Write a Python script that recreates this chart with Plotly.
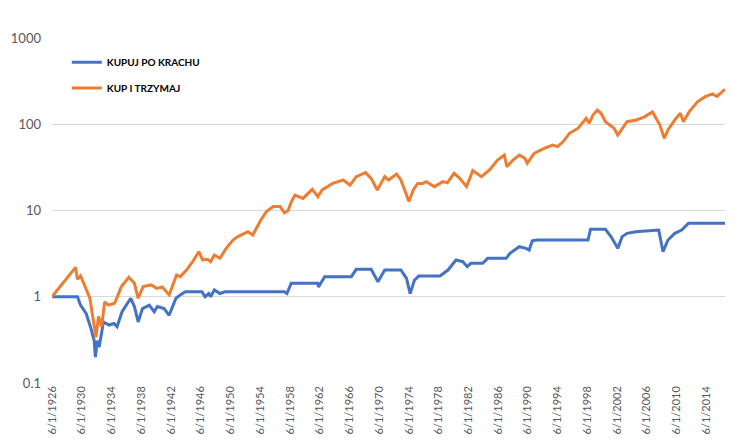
import plotly.graph_objects as go

# KUP I TRZYMAJ (buy & hold)
hold_dates = ["1926-06","1927-07","1928-08","1929-08","1929-11","1930-04","1931-07","1931-12",
    "1932-05","1932-09","1933-02","1933-07","1934-01","1934-11","1935-10","1936-10","1937-07",
    "1938-01","1938-09","1939-10","1940-07","1941-04","1942-03","1943-03","1943-09","1944-07",
    "1945-05","1946-03","1946-09","1947-05","1947-10","1948-04","1949-01","1949-11","1950-10",
    "1951-06","1952-10","1953-06","1954-07","1955-04","1956-03","1957-02","1957-09","1958-03",
    "1958-08","1959-02","1960-03","1961-06","1962-03","1962-10","1964-03","1965-08","1966-07",
    "1967-05","1968-08","1969-05","1970-03","1971-03","1971-09","1972-10","1973-05","1974-06",
    "1975-01","1975-08","1976-04","1976-10","1977-11","1979-01","1979-08","1980-07","1981-04",
    "1982-03","1983-01","1984-03","1985-04","1986-05","1987-04","1987-08","1988-06","1989-04",
    "1990-01","1990-05","1991-04","1992-09","1993-10","1994-06","1995-03","1996-01","1997-03",
    "1998-04","1998-09","1999-03","1999-10","2000-04","2000-11","2001-06","2002-01","2002-07",
    "2003-01","2003-10","2005-01","2006-02","2007-03","2007-08","2008-03","2008-10","2009-04",
    "2010-03","2010-12","2011-05","2012-02","2013-04","2014-05","2015-04","2015-11","2016-12"]
hold_values = [1.0,1.3,1.7,2.19,1.6,1.75,0.97,0.6,
    0.34,0.59,0.45,0.87,0.8,0.84,1.31,1.68,1.43,
    0.96,1.31,1.37,1.25,1.3,1.05,1.79,1.71,2.04,
    2.55,3.33,2.67,2.72,2.55,3.05,2.79,3.64,4.55,
    4.98,5.67,5.2,7.77,9.7,11.1,11.1,9.4,10.0,
    12.5,15.1,13.8,17.6,14.5,17.3,20.6,22.6,19.7,
    24.7,27.5,23.6,17.3,24.7,22.6,26.5,22.6,12.7,
    17.3,20.6,20.6,21.6,18.9,21.6,21.0,27,23.6,
    18.9,29,24.7,29.5,38.5,44,32.2,38.5,44,
    40.3,35.3,46,52.7,57.5,55,63,78.6,90,
    117,103,128,146,134,107,98,90,75,
    86,107,112,122,139,122,98,68.7,86,
    112,134,107,139,183,210,225,210,254]

# KUPUJ PO KRACHU (buy after crash)
crash_dates = ["1926-06","1929-11","1930-04","1931-01","1931-08","1932-02","1932-04","1932-07",
    "1932-10","1933-02","1933-05","1934-02","1934-10","1935-03","1935-11","1937-01","1937-07",
    "1938-01","1938-08","1939-07","1940-03","1940-08","1941-07","1942-03","1943-02","1943-09",
    "1944-05","1946-08","1947-01","1947-07","1947-10","1948-04","1949-01","1949-09","1957-09",
    "1958-01","1958-08","1962-03","1962-04","1963-02","1966-09","1967-05","1969-05","1970-04",
    "1971-03","1973-05","1974-02","1974-08","1975-03","1975-10","1978-08","1979-09","1980-10",
    "1981-09","1982-04","1982-10","1984-05","1985-01","1987-07","1988-01","1989-04","1990-03",
    "1990-08","1991-01","1991-09","1998-07","1998-11","2000-11","2001-08","2002-07","2003-02",
    "2003-10","2004-12","2008-01","2008-08","2009-04","2010-03","2011-02","2011-07","2012-01",
    "2016-12"]
crash_values = [1.0,1.0,0.8,0.64,0.45,0.31,0.2,0.31,
    0.26,0.38,0.51,0.47,0.49,0.45,0.67,0.96,0.77,
    0.51,0.73,0.8,0.67,0.77,0.73,0.61,0.96,1.05,
    1.14,1.14,1.0,1.09,1.0,1.2,1.09,1.14,1.14,
    1.09,1.43,1.43,1.3,1.71,1.71,2.08,2.08,1.49,
    2.04,2.04,1.63,1.09,1.56,1.74,1.74,2.04,2.67,
    2.55,2.23,2.44,2.44,2.79,2.79,3.19,3.8,3.64,
    3.48,4.46,4.55,4.55,6.06,6.06,4.98,3.64,4.98,
    5.43,5.67,5.93,3.33,4.55,5.43,5.93,6.5,7.1,
    7.1]

x_tick_years = list(range(1926, 2015, 4))
x_tick_vals = [f"{y}-06-01" for y in x_tick_years]
x_tick_text = [f"6/1/{y}" for y in x_tick_years]
y_tick_vals = [0.1, 1, 10, 100, 1000]
y_tick_text = ["0.1", "1", "10", "100", "1000"]

BLUE = "#4472C4"
ORANGE = "#ED7D31"
FONT = "Lato"

fig = go.Figure()
fig.add_trace(go.Scatter(x=crash_dates, y=crash_values, mode="lines", name="KUPUJ PO KRACHU",
                         line=dict(color=BLUE, width=3), legend="legend", showlegend=True))
fig.add_trace(go.Scatter(x=hold_dates, y=hold_values, mode="lines", name="KUP I TRZYMAJ",
                         line=dict(color=ORANGE, width=3), legend="legend2", showlegend=True))

legend_common = dict(bgcolor="rgba(0,0,0,0)", xanchor="left", yanchor="middle",
                     font=dict(family=FONT, size=10, color="#000000", weight="bold"),
                     itemwidth=30, visible=True)

fig.update_layout(
    width=750, height=444,
    showlegend=True,
    margin=dict(l=44, r=33, t=30, b=69),
    paper_bgcolor="white", plot_bgcolor="white",
    font=dict(family=FONT, color="#595959"),
    legend=dict(x=0.022, y=0.93, **legend_common),
    legend2=dict(x=0.022, y=0.855, **legend_common),
    xaxis=dict(type="date", range=["1926-06-01", "2016-12-01"],
               tickmode="array", tickvals=x_tick_vals, ticktext=x_tick_text,
               tickangle=-90, tickfont=dict(size=11, color="#595959"),
               showgrid=False, zeroline=False, showline=False, automargin=False,
               ticks=""),
    yaxis=dict(type="log", range=[-1, 3], tickmode="array", tickvals=y_tick_vals,
               ticktext=y_tick_text, tickfont=dict(size=13, color="#595959"),
               showgrid=True, gridcolor="#D9D9D9", gridwidth=1, zeroline=False,
               showline=False, automargin=False, ticks="", ticklabelstandoff=10),
)

fig.write_html("out.html")
